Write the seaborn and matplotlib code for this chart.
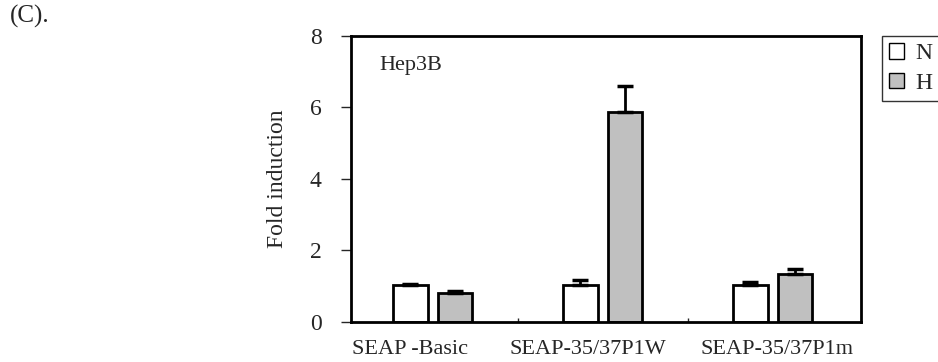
import pandas as pd
import seaborn as sns
import matplotlib.pyplot as plt
import matplotlib.transforms as mtransforms
from matplotlib.ticker import FixedLocator

# values
constructs = ["SEAP -Basic", "SEAP-35/37P1W", "SEAP-35/37P1m"]
conditions = ["N", "H"]
fold_n = [1.03, 1.03, 1.03]
fold_h = [0.81, 5.87, 1.34]
err_n = [0.03, 0.15, 0.08]
err_h = [0.06, 0.73, 0.14]

df = pd.DataFrame({
    "construct": constructs * 2,
    "condition": ["N"] * 3 + ["H"] * 3,
    "fold": fold_n + fold_h,
})

sns.set_style("ticks")
plt.rcParams["font.family"] = ["Liberation Serif", "DejaVu Serif"]

fig = plt.figure(figsize=(9.38, 3.62), dpi=100)
ax = fig.add_axes([0.3742, 0.1105, 0.5437, 0.7901])

sns.barplot(data=df, x="construct", y="fold", hue="condition",
            order=constructs, hue_order=conditions,
            palette={"N": "white", "H": "#c0c0c0"},
            edgecolor="black", linewidth=2, width=0.52, gap=0.23,
            errorbar=None, ax=ax)

# one-sided (upward) error bars on top of each bar
for cont, errs in zip(ax.containers, [err_n, err_h]):
    xs = [p.get_x() + p.get_width() / 2 for p in cont]
    ys = [p.get_height() for p in cont]
    ax.errorbar(xs, ys, yerr=[[0] * len(errs), errs], fmt="none",
                ecolor="black", elinewidth=2, capsize=6, capthick=2.5, zorder=3)

ax.set_xlim(-0.48, 2.52)
ax.set_ylim(0, 8)
ax.set_yticks([0, 2, 4, 6, 8])
ax.tick_params(axis="y", direction="out", length=7, width=1, labelsize=17, pad=14)
ax.tick_params(axis="x", which="major", length=0, labelsize=16, pad=13)
ax.xaxis.set_minor_locator(FixedLocator([0.5, 1.5]))
ax.tick_params(axis="x", which="minor", direction="in", length=3, width=1)
ax.set_xlabel("")
ax.set_ylabel("Fold induction", fontsize=17, labelpad=16)

# the category labels in the original sit a little off their bar pairs
for lbl, dx in zip(ax.get_xticklabels(), [-23, -15, 4]):
    off = mtransforms.ScaledTranslation(dx / 100, 0, fig.dpi_scale_trans)
    lbl.set_transform(lbl.get_transform() + off)

for s in ax.spines.values():
    s.set_visible(True)
    s.set_linewidth(2)
    s.set_color("black")

ax.text(0.055, 0.93, "Hep3B", transform=ax.transAxes, fontsize=16,
        va="top", ha="left")

handles, labels = ax.get_legend_handles_labels()
leg = ax.legend(handles, labels, loc="upper left", bbox_to_anchor=(1.041, 1.0),
                frameon=True, fancybox=False, fontsize=17, handlelength=0.65,
                handleheight=0.65, handletextpad=0.45, borderpad=0.3,
                labelspacing=0.35, borderaxespad=0)
leg.get_frame().set_edgecolor("black")
leg.get_frame().set_linewidth(1)
for h in leg.legend_handles:
    h.set_linewidth(1)

fig.text(0.011, 0.955, "(C).", fontsize=18, ha="left", va="center")

fig.savefig("out.png", dpi=100)
plt.close(fig)
